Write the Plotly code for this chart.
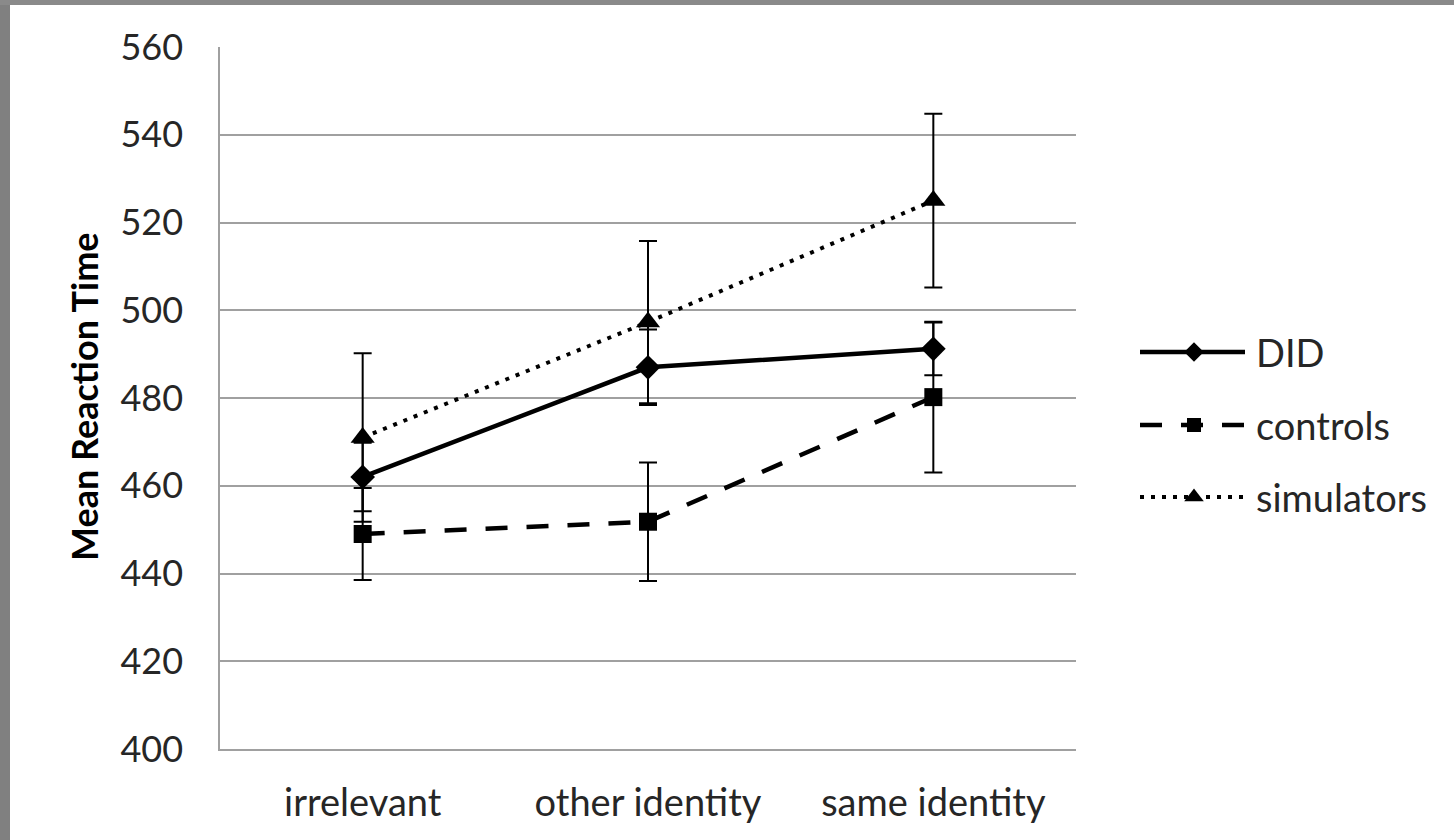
import plotly.graph_objects as go

categories = ["irrelevant", "other identity", "same identity"]
series_names = ["DID", "controls", "simulators"]
did_values = [462.0, 487.0, 491.2]
did_errors = [7.8, 8.6, 6.0]
controls_values = [449.0, 451.8, 480.2]
controls_errors = [10.5, 13.5, 17.2]
simulators_values = [471.0, 497.3, 525.0]
simulators_errors = [19.2, 18.5, 19.8]
y_ticks = [400, 420, 440, 460, 480, 500, 520, 540, 560]

W, H = 1454, 840
OW = 1436  # width of the pixel overlay subplot
PL, PR, PT, PB = 220, 1076, 47, 749
FONT = "Lato"
TXT = "#262626"
GRID = "#a0a0a0"

styles = {
    "DID": dict(dash="solid", width=4.5, symbol="diamond", size=19),
    "controls": dict(dash="22px,19px", width=4.5, symbol="square", size=18),
    "simulators": dict(dash="4px,7px", width=4, symbol="triangle-up", size=21),
}
data = {
    "DID": (did_values, did_errors),
    "controls": (controls_values, controls_errors),
    "simulators": (simulators_values, simulators_errors),
}

fig = go.Figure()
for name in series_names:
    vals, errs = data[name]
    st = styles[name]
    fig.add_trace(go.Scatter(
        x=categories, y=vals, name=name, mode="lines+markers",
        line=dict(color="black", width=st["width"], dash=st["dash"]),
        marker=dict(symbol=st["symbol"], size=st["size"], color="black"),
        error_y=dict(type="data", array=errs, visible=True, color="black",
                     thickness=2, width=9),
        showlegend=False,
    ))

# custom legend (pixel overlay axis)
leg_y = [352, 425, 497]
for name, yy in zip(series_names, leg_y):
    st = styles[name]
    fig.add_shape(type="line", xref="x2", yref="y2", x0=1140, x1=1245, y0=yy, y1=yy,
                  line=dict(color="black", width=st["width"], dash=st["dash"]))
    fig.add_trace(go.Scatter(
        x=[1194], y=[yy], xaxis="x2", yaxis="y2", mode="markers",
        marker=dict(symbol=st["symbol"], size=st["size"] - 4, color="black"),
        showlegend=False, hoverinfo="skip"))
    fig.add_annotation(xref="x2", yref="y2", x=1254, y=yy, text=name, showarrow=False,
                       xanchor="left", yanchor="middle",
                       font=dict(family=FONT, size=38, color=TXT))

# y-axis title
fig.add_annotation(xref="x2", yref="y2", x=84, y=397, text="<b>Mean Reaction Time</b>",
                   textangle=-90, showarrow=False, xanchor="center", yanchor="middle",
                   font=dict(family=FONT, size=36, color="black"))

# gray frame edges (paper-referenced)
fig.add_shape(type="rect", xref="paper", yref="paper", x0=0, x1=10 / W, y0=0, y1=1,
              fillcolor="#808080", line=dict(width=0), layer="below")
fig.add_shape(type="rect", xref="paper", yref="paper", x0=0, x1=1, y0=1 - 5 / H, y1=1,
              fillcolor="#8a8a8a", line=dict(width=0), layer="below")

fig.update_layout(
    width=W, height=H, template="none",
    paper_bgcolor="white", plot_bgcolor="rgba(0,0,0,0)",
    margin=dict(l=0, r=0, t=0, b=0),
    showlegend=False,
    font=dict(family=FONT, size=38, color=TXT),
    xaxis=dict(domain=[PL / W, PR / W], range=[-0.5, 2.5], type="category",
               showgrid=False, showline=True, linecolor=GRID, linewidth=1.5,
               ticks="", ticklabelstandoff=20, automargin=False, zeroline=False,
               anchor="y", tickfont=dict(family=FONT, size=38, color=TXT)),
    yaxis=dict(domain=[1 - PB / H, 1 - PT / H], range=[400, 560], tickvals=y_ticks,
               showgrid=True, gridcolor=GRID, gridwidth=1.5,
               showline=True, linecolor=GRID, linewidth=1.5, ticks="",
               ticklabelstandoff=28, automargin=False, zeroline=False,
               anchor="x", tickfont=dict(family=FONT, size=36, color=TXT)),
    xaxis2=dict(domain=[0, OW / W], range=[0, OW], visible=False,
                anchor="y2", fixedrange=True),
    yaxis2=dict(domain=[0, 1], range=[H, 0], visible=False,
                anchor="x2", fixedrange=True),
)

fig.write_html("out.html", config={"displayModeBar": False},
               post_script="document.body.style.margin='0px';"
                           "document.body.style.background='white';"
                           "document.documentElement.style.overflow='hidden';")
